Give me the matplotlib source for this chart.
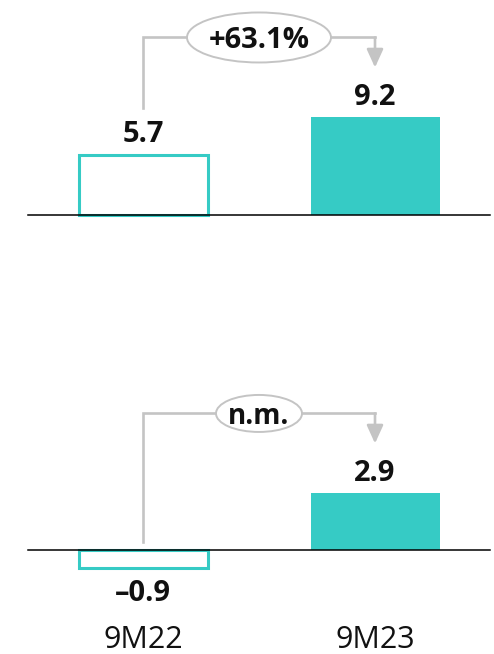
import matplotlib
matplotlib.use("Agg")
import matplotlib.pyplot as plt
from matplotlib.patches import Ellipse

plt.rcParams['font.family'] = ['Open Sans', 'DejaVu Sans']

# values per period
periods = ['9M22', '9M23']
top_values = [5.7, 9.2]
bottom_values = [-0.9, 2.9]
top_change = '+63.1%'
bottom_change = 'n.m.'

teal = '#36cbc5'
gray = '#c4c4c4'
ink = '#111111'

W, H = 494, 654
fig = plt.figure(figsize=(W / 100, H / 100), dpi=100)

# pixel geometry of the x axis: bar centres at 143 and 375 px
x0_px, dx_px = 143, 232
bar_w = 129 / dx_px


def px_to_x(px):
    return (px - x0_px) / dx_px


def make_panel(top_px, bot_px, base_px, scale):
    """axes covering figure rows top_px..bot_px, value 0 sits at base_px"""
    ax = fig.add_axes([0, 1 - bot_px / H, 1, (bot_px - top_px) / H])
    ax.set_xlim(px_to_x(0), px_to_x(W))
    ax.set_ylim((base_px - bot_px) / scale, (base_px - top_px) / scale)
    ax.axis('off')
    return ax


def draw_panel(ax, values, change, scale, start_gap, ell_w, ell_h, change_size):
    xs = [0, 1]
    # first period: outlined bar, second: filled bar
    ax.bar(xs[0], values[0], width=bar_w, facecolor='white', edgecolor=teal, linewidth=2.2, zorder=2)
    ax.bar(xs[1], values[1], width=bar_w, color=teal, linewidth=0, zorder=2)
    ax.plot([px_to_x(28), px_to_x(490)], [0, 0], color='black', lw=1.1, zorder=3)

    for x, v in zip(xs, values):
        off = 20 if v >= 0 else -26
        ax.annotate(f'{v:.1f}'.replace('-', '\u2013'), (x, v), xytext=(0, off * 0.72),
                    textcoords='offset points', ha='center', va='center',
                    fontsize=21, fontweight='bold', color=ink, zorder=4)

    # connector from first bar to second with the change bubble
    px = 1 / scale
    top = max(values)
    level = top + 80 * px
    start = max(values[0], 0) + start_gap * px
    tip = top + 50 * px
    ax.plot([xs[0], xs[0], xs[1]], [start, level, level], color=gray, lw=1.9,
            solid_joinstyle='miter', zorder=1)
    ax.annotate('', xy=(xs[1], tip), xytext=(xs[1], level),
                arrowprops=dict(arrowstyle='-|>,head_length=0.55,head_width=0.25',
                                color=gray, lw=1.9, shrinkA=0, shrinkB=0, mutation_scale=20),
                zorder=1)
    mid = (xs[0] + xs[1]) / 2
    ax.add_patch(Ellipse((mid, level), ell_w / dx_px, ell_h * px, facecolor='white',
                         edgecolor=gray, lw=1.4, zorder=3))
    ax.text(mid, level - 3 * px, change, ha='center', va='center', fontsize=change_size,
            fontweight='bold', color=ink, zorder=4)
    return xs


top_scale = 10.6
ax1 = make_panel(0, 300, 215, top_scale)
draw_panel(ax1, top_values, top_change, top_scale, 47, 144, 50, 21)

bot_scale = 19.5
ax2 = make_panel(300, 654, 550, bot_scale)
xs = draw_panel(ax2, bottom_values, bottom_change, bot_scale, 8, 86, 37, 20)
for x, name in zip(xs, periods):
    ax2.text(x, (550 - 640) / bot_scale, name, ha='center', va='center',
             fontsize=22, color=ink)

fig.savefig('out.png', dpi=100)
